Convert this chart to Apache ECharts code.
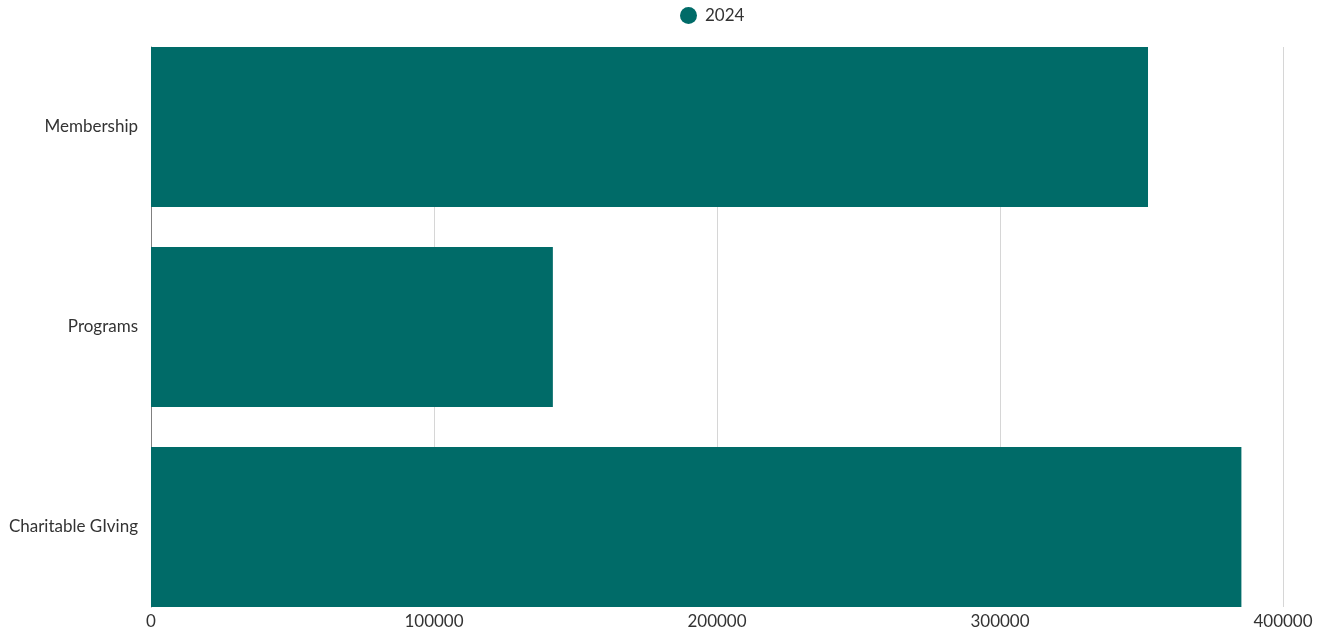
<!DOCTYPE html>
<html>
<head>
<meta charset="utf-8">
<script src="https://cdn.jsdelivr.net/npm/echarts@6/dist/echarts.min.js"></script>
<style>html,body{margin:0;padding:0;background:#fff}#c{width:1326px;height:635px}</style>
</head>
<body>
<div id="c"></div>
<script>
const categories = ["Membership", "Programs", "Charitable GIving"];
const seriesName = "2024";
const values = [352300, 142000, 385300];
const xTicks = [0, 100000, 200000, 300000, 400000];

const xMin = xTicks[0], xMax = xTicks[xTicks.length - 1];
const chart = echarts.init(document.getElementById('c'), null, {renderer: 'canvas'});
chart.setOption({
  animation: false,
  textStyle: {fontFamily: 'Lato, "Open Sans", sans-serif'},
  legend: {
    top: 7, left: 680, padding: 0, icon: 'circle', itemWidth: 17, itemHeight: 17, itemGap: 8,
    textStyle: {fontSize: 17, color: '#333', padding: [0, 0, 0, 3]}
  },
  grid: [
    {left: 151, right: 43, top: 27, bottom: 8, containLabel: false},
    {left: 151, right: 43, top: 47, bottom: 28, containLabel: false, z: -1}
  ],
  xAxis: [
    {gridIndex: 0, type: 'value', min: xMin, max: xMax, interval: 100000, show: false},
    {
      gridIndex: 1, type: 'value', min: xMin, max: xMax, interval: 100000,
      axisLine: {show: false}, axisTick: {show: false},
      axisLabel: {fontSize: 17, color: '#333', margin: 6, formatter: v => String(v)},
      splitLine: {show: true, lineStyle: {color: '#d6d6d6', width: 1}}
    }
  ],
  yAxis: [
    {
      gridIndex: 0, type: 'category', data: categories, inverse: true,
      axisLine: {show: false}, axisTick: {show: false},
      axisLabel: {fontSize: 17, color: '#333', margin: 13}
    },
    {
      gridIndex: 1, type: 'category', data: categories, inverse: true,
      axisLine: {show: true, lineStyle: {color: '#808080', width: 1}},
      axisTick: {show: false}, axisLabel: {show: false}
    }
  ],
  series: [{
    name: seriesName, type: 'bar', data: values,
    xAxisIndex: 0, yAxisIndex: 0,
    barCategoryGap: '20%',
    itemStyle: {color: '#006B68'}
  }]
});
</script>
</body>
</html>
